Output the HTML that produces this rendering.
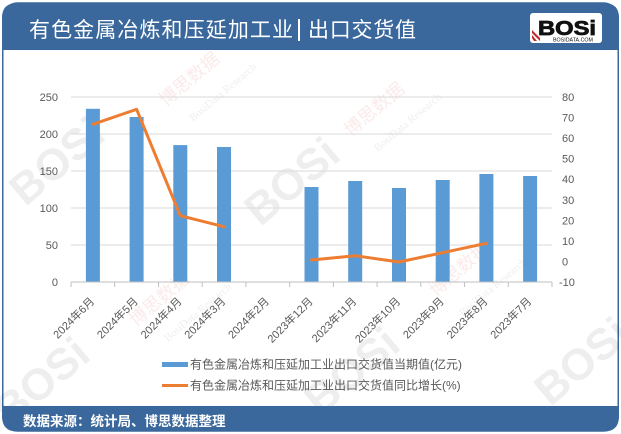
<!DOCTYPE html>
<html>
<head>
<meta charset="utf-8">
<style>
html,body{margin:0;padding:0;background:#fff;}
svg{display:block;font-family:"Liberation Sans","Noto Sans CJK SC",sans-serif;}
</style>
</head>
<body>
<svg width="621" height="434" viewBox="0 0 621 434" xmlns="http://www.w3.org/2000/svg">
  <rect x="0" y="0" width="621" height="434" fill="#ffffff"/>
  <!-- card border -->
  <rect x="2.75" y="3" width="615.5" height="428" rx="15" ry="15" fill="#ffffff" stroke="#3a689c" stroke-width="1.5"/>
  <!-- header -->
  <path d="M2,50 V18 Q2,3 17,3 H604 Q619,3 619,18 V50 Z" fill="#3a689c"/>
  <text x="29" y="37" font-size="21" fill="#ffffff" textLength="264" lengthAdjust="spacing">有色金属冶炼和压延加工业</text>
  <rect x="298" y="19" width="2" height="22" fill="#ffffff"/>
  <text x="308" y="37" font-size="21" fill="#ffffff" textLength="108" lengthAdjust="spacing">出口交货值</text>
  <!-- logo -->
  <rect x="530" y="13" width="72" height="30" rx="3" fill="#ffffff"/>
  <g>
    <polygon points="532,30 540,38 540,41 532,33" fill="#c0282d"/>
    <polygon points="532,35 537,41 534,41 532,38" fill="#c0282d"/>
  </g>
  <text x="567" y="35" font-size="20" font-weight="bold" fill="#111" text-anchor="middle" textLength="58" lengthAdjust="spacingAndGlyphs" stroke="#111" stroke-width="0.8">BOSi</text>
  <text x="573" y="41.5" font-size="5" fill="#111" text-anchor="middle" textLength="40" lengthAdjust="spacingAndGlyphs">BOSIDATA.COM</text>

  <!-- watermarks -->
  <g opacity="0.07" font-weight="bold" fill="#000">
    <text x="60" y="175" font-size="44" text-anchor="middle" transform="rotate(-40 60 165)">BOSi</text>
    <text x="295" y="195" font-size="44" text-anchor="middle" transform="rotate(-40 295 185)">BOSi</text>
    <text x="45" y="395" font-size="44" text-anchor="middle" transform="rotate(-40 45 385)">BOSi</text>
    <text x="355" y="385" font-size="44" text-anchor="middle" transform="rotate(-40 355 375)">BOSi</text>
    <text x="585" y="375" font-size="44" text-anchor="middle" transform="rotate(-40 585 365)">BOSi</text>
  </g>
  <g opacity="0.10" fill="#d03030" font-size="18">
    <text x="190" y="85" text-anchor="middle" transform="rotate(-40 190 80)">博思数据</text>
    <text x="375" y="115" text-anchor="middle" transform="rotate(-40 375 110)">博思数据</text>
    <text x="160" y="305" text-anchor="middle" transform="rotate(-40 160 300)">博思数据</text>
    <text x="460" y="275" text-anchor="middle" transform="rotate(-40 460 270)">博思数据</text>
  </g>
  <g opacity="0.10" fill="#555" font-size="11" font-family="Liberation Serif, serif">
    <text x="225" y="95" text-anchor="middle" transform="rotate(-40 225 95)">BosiData Research</text>
    <text x="410" y="125" text-anchor="middle" transform="rotate(-40 410 125)">BosiData Research</text>
    <text x="200" y="315" text-anchor="middle" transform="rotate(-40 200 315)">BosiData Research</text>
    <text x="495" y="290" text-anchor="middle" transform="rotate(-40 495 290)">BosiData Research</text>
  </g>

  <!-- gridlines -->
  <g stroke="#d9d9d9" stroke-width="1">
    <line x1="71" y1="97" x2="552" y2="97"/>
    <line x1="71" y1="134" x2="552" y2="134"/>
    <line x1="71" y1="171" x2="552" y2="171"/>
    <line x1="71" y1="208" x2="552" y2="208"/>
    <line x1="71" y1="245" x2="552" y2="245"/>
  </g>

  <!-- bars -->
  <g fill="#5b9bd5">
    <rect x="85.9" y="108.8" width="14" height="173.2"/>
    <rect x="129.6" y="117" width="14" height="165"/>
    <rect x="173.3" y="145.1" width="14" height="136.9"/>
    <rect x="217" y="147" width="14" height="135"/>
    <rect x="304.5" y="187" width="14" height="95"/>
    <rect x="348.2" y="181" width="14" height="101"/>
    <rect x="392" y="188" width="14" height="94"/>
    <rect x="435.7" y="180" width="14" height="102"/>
    <rect x="479.4" y="174" width="14" height="108"/>
    <rect x="523.1" y="176" width="14" height="106"/>
  </g>

  <!-- x axis -->
  <line x1="71" y1="282" x2="552" y2="282" stroke="#bfbfbf" stroke-width="1"/>
  <g stroke="#bfbfbf" stroke-width="1">
    <line x1="71" y1="282" x2="71" y2="287"/>
    <line x1="114.7" y1="282" x2="114.7" y2="287"/>
    <line x1="158.5" y1="282" x2="158.5" y2="287"/>
    <line x1="202.2" y1="282" x2="202.2" y2="287"/>
    <line x1="245.9" y1="282" x2="245.9" y2="287"/>
    <line x1="289.7" y1="282" x2="289.7" y2="287"/>
    <line x1="333.4" y1="282" x2="333.4" y2="287"/>
    <line x1="377.1" y1="282" x2="377.1" y2="287"/>
    <line x1="420.8" y1="282" x2="420.8" y2="287"/>
    <line x1="464.6" y1="282" x2="464.6" y2="287"/>
    <line x1="508.3" y1="282" x2="508.3" y2="287"/>
    <line x1="552" y1="282" x2="552" y2="287"/>
  </g>

  <!-- line series -->
  <g fill="none" stroke="#ed7d31" stroke-width="3" stroke-linejoin="round" stroke-linecap="round">
    <polyline points="92.9,124.3 136.6,109.3 180.3,215.7 224,226.7"/>
    <polyline points="311.5,260 355.2,255.7 399,262 442.7,252.7 486.4,243.3"/>
  </g>

  <!-- left axis labels -->
  <g font-size="11" fill="#595959" text-anchor="end">
    <text x="58" y="101">250</text>
    <text x="58" y="138">200</text>
    <text x="58" y="175">150</text>
    <text x="58" y="212">100</text>
    <text x="58" y="249">50</text>
    <text x="58" y="286">0</text>
  </g>
  <!-- right axis labels -->
  <g font-size="11" fill="#595959" text-anchor="start">
    <text x="562" y="101">80</text>
    <text x="562" y="121.6">70</text>
    <text x="562" y="142.1">60</text>
    <text x="562" y="162.7">50</text>
    <text x="562" y="183.2">40</text>
    <text x="562" y="203.8">30</text>
    <text x="562" y="224.3">20</text>
    <text x="562" y="244.9">10</text>
    <text x="562" y="265.4">0</text>
    <text x="559" y="286">-10</text>
  </g>

  <!-- x labels -->
  <g font-size="11" fill="#595959" text-anchor="end">
    <text x="95" y="302" transform="rotate(-45 95 302)">2024年6月</text>
    <text x="138.7" y="302" transform="rotate(-45 138.7 302)">2024年5月</text>
    <text x="182.4" y="302" transform="rotate(-45 182.4 302)">2024年4月</text>
    <text x="226.1" y="302" transform="rotate(-45 226.1 302)">2024年3月</text>
    <text x="269.8" y="302" transform="rotate(-45 269.8 302)">2024年2月</text>
    <text x="313.5" y="302" transform="rotate(-45 313.5 302)">2023年12月</text>
    <text x="357.2" y="302" transform="rotate(-45 357.2 302)">2023年11月</text>
    <text x="401" y="302" transform="rotate(-45 401 302)">2023年10月</text>
    <text x="444.7" y="302" transform="rotate(-45 444.7 302)">2023年9月</text>
    <text x="488.4" y="302" transform="rotate(-45 488.4 302)">2023年8月</text>
    <text x="532.1" y="302" transform="rotate(-45 532.1 302)">2023年7月</text>
  </g>

  <!-- legend -->
  <rect x="162" y="362" width="26" height="5" fill="#5b9bd5"/>
  <text x="190" y="368.5" font-size="12" fill="#595959">有色金属冶炼和压延加工业出口交货值当期值(亿元)</text>
  <line x1="162" y1="385.5" x2="188" y2="385.5" stroke="#ed7d31" stroke-width="3"/>
  <text x="190" y="389.5" font-size="12" fill="#595959">有色金属冶炼和压延加工业出口交货值同比增长(%)</text>

  <!-- footer -->
  <path d="M2,406 H619 V416 Q619,431.5 604,431.5 H17 Q2,431.5 2,416 Z" fill="#3a689c"/>
  <text x="23" y="426" font-size="13.5" font-weight="bold" fill="#ffffff">数据来源：统计局、博思数据整理</text>
</svg>
</body>
</html>
